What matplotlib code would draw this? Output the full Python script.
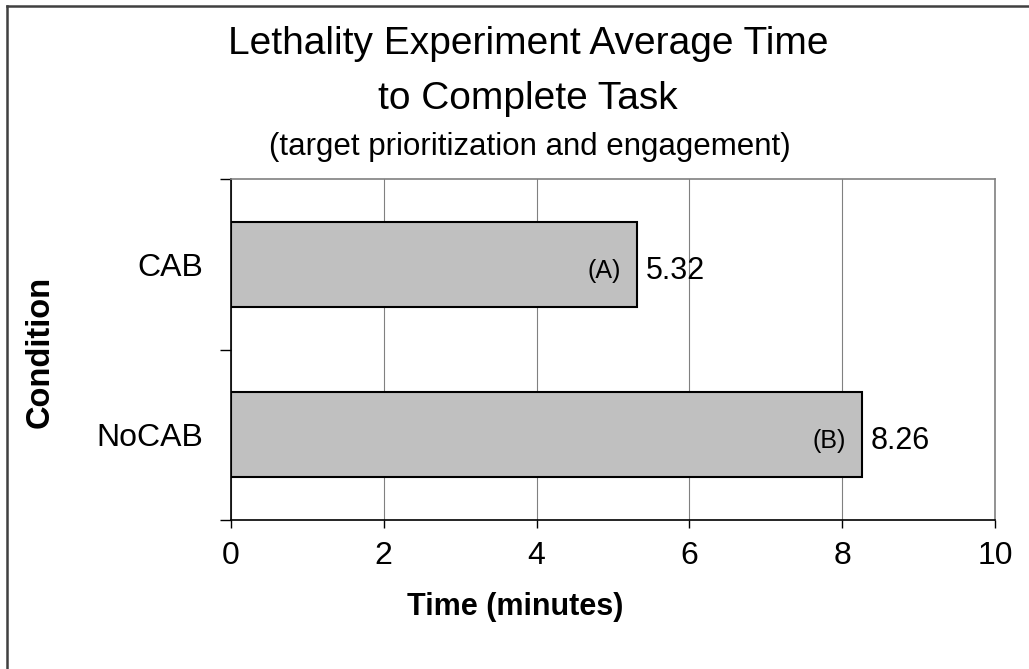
import matplotlib
matplotlib.use("Agg")
import matplotlib.pyplot as plt
from matplotlib.lines import Line2D

plt.rcParams['font.family'] = ['Liberation Sans', 'DejaVu Sans']

categories = ["CAB", "NoCAB"]
values = [5.32, 8.26]
bar_tags = ["(A)", "(B)"]
x_ticks = [0, 2, 4, 6, 8, 10]

W, H = 1029, 669
fig = plt.figure(figsize=(W / 100, H / 100), dpi=100)
ax = fig.add_axes([231 / W, 1 - 520 / H, (995 - 231) / W, (520 - 179) / H])

ypos = list(range(len(categories)))
ax.barh(ypos, values, height=0.5, color='#C0C0C0', edgecolor='black', linewidth=1.5, zorder=3)

ax.set_xlim(0, 10)
ax.set_ylim(len(categories) - 0.5, -0.5)
ax.set_xticks(x_ticks)
ax.set_xticklabels([str(t) for t in x_ticks], fontsize=23)
ax.tick_params(axis='x', direction='out', length=6, width=1, pad=9, colors='black')
ax.xaxis.grid(True, color='#808080', linewidth=0.8, zorder=0)

ax.set_yticks([i - 0.5 for i in range(len(categories) + 1)])
ax.set_yticklabels([])
ax.tick_params(axis='y', which='major', direction='out', length=8, width=1)
ax.set_yticks(ypos, minor=True)
ax.set_yticklabels(categories, minor=True, fontsize=23)
ax.tick_params(axis='y', which='minor', length=0, pad=20)

for s in ['left', 'bottom']:
    ax.spines[s].set_color('black')
    ax.spines[s].set_linewidth(1.2)
for s in ['top', 'right']:
    ax.spines[s].set_color('#808080')
    ax.spines[s].set_linewidth(1.2)

for i, (v, tag) in enumerate(zip(values, bar_tags)):
    ax.annotate(f"{v:.2f}", xy=(v, i), xytext=(6, -2), textcoords='offset points',
                ha='left', va='center_baseline', fontsize=22)
    ax.annotate(tag, xy=(v, i), xytext=(-12, -3), textcoords='offset points',
                ha='right', va='center_baseline', fontsize=18)

fig.text(528 / W, 1 - 44 / H, "Lethality Experiment Average Time", ha='center', va='center', fontsize=28)
fig.text(528 / W, 1 - 99 / H, "to Complete Task", ha='center', va='center', fontsize=28)
fig.text(530 / W, 1 - 147 / H, "(target prioritization and engagement)", ha='center', va='center', fontsize=22.5)

fig.text(515 / W, 1 - 607 / H, "Time (minutes)", ha='center', va='center', fontsize=22, fontweight='bold')
fig.text(40 / W, 1 - 352 / H, "Condition", ha='center', va='center', fontsize=23.5, fontweight='bold', rotation=90)

fig.add_artist(Line2D([7 / W, 7 / W], [0, 1 - 6 / H], transform=fig.transFigure, color='#404040', linewidth=1.8))
fig.add_artist(Line2D([7 / W, 1], [1 - 6 / H, 1 - 6 / H], transform=fig.transFigure, color='#404040', linewidth=1.8))

fig.savefig("out.png", dpi=100)
